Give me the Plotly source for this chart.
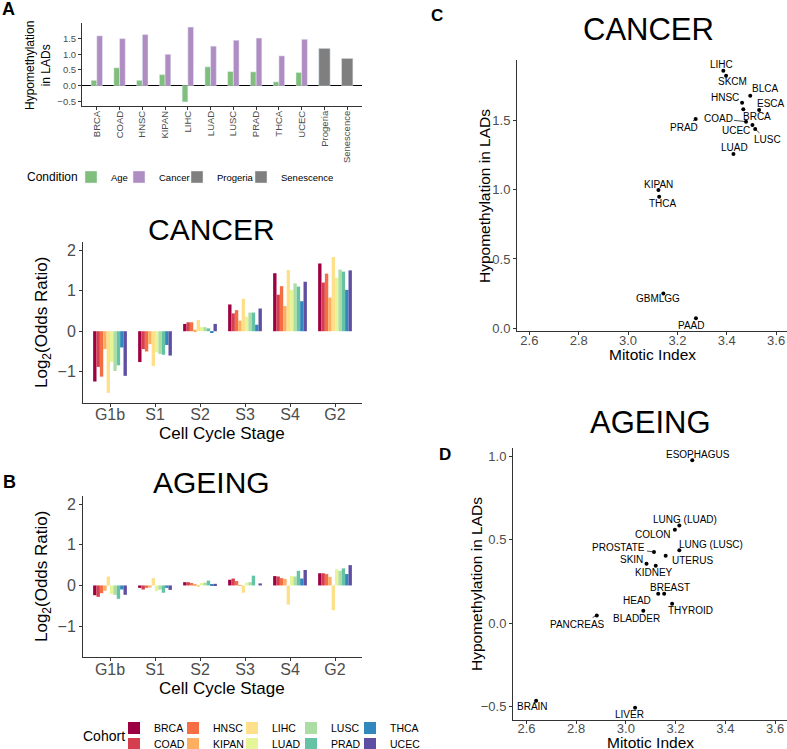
import plotly.graph_objects as go

W, H = 787, 749
FONT = "Liberation Sans, Arial, Helvetica, sans-serif"
TICK_GREY = "#4D4D4D"
AXIS_COL = "#333333"

# ---------------- Panel A data ----------------
a_categories = ["BRCA", "COAD", "HNSC", "KIPAN", "LIHC", "LUAD", "LUSC",
                "PRAD", "THCA", "UCEC", "Progeria", "Senescence"]
a_cohorts = ["BRCA", "COAD", "HNSC", "KIPAN", "LIHC", "LUAD", "LUSC",
             "PRAD", "THCA", "UCEC"]
a_age = [0.17, 0.57, 0.17, 0.35, -0.52, 0.60, 0.45, 0.44, 0.12, 0.42]
a_cancer = [1.59, 1.50, 1.63, 1.00, 1.87, 1.26, 1.45, 1.52, 0.95, 1.48]
a_progeria = [1.19]
a_senescence = [0.87]

# ---------------- Panel B data (log2 odds ratio) ----------------
stages = ["G1b", "S1", "S2", "S3", "S4", "G2"]
cohorts = ["BRCA", "COAD", "HNSC", "KIPAN", "LIHC", "LUAD", "LUSC", "PRAD", "THCA", "UCEC"]
cohort_colors = ["#9E0142", "#D53E4F", "#F46D43", "#FDAE61", "#FEE08B",
                 "#E6F598", "#ABDDA4", "#66C2A5", "#3288BD", "#5E4FA2"]

cancer_brca = [-1.24, -0.76, 0.18, 0.66, 1.43, 1.67]
cancer_coad = [-0.88, -0.44, 0.22, 0.44, 0.90, 1.20]
cancer_hnsc = [-1.12, -0.50, 0.22, 0.52, 1.11, 1.42]
cancer_kipan = [-0.44, -0.32, 0.04, 0.26, 0.62, 0.83]
cancer_lihc = [-1.52, -0.86, 0.28, 0.80, 1.51, 1.83]
cancer_luad = [-0.76, -0.52, 0.10, 0.36, 1.02, 1.32]
cancer_lusc = [-0.98, -0.56, 0.10, 0.46, 1.18, 1.52]
cancer_prad = [-0.84, -0.58, 0.07, 0.46, 1.10, 1.47]
cancer_thca = [-0.40, -0.34, -0.04, 0.16, 0.74, 1.02]
cancer_ucec = [-1.10, -0.60, 0.18, 0.56, 1.22, 1.50]

ageing_brca = [-0.24, -0.06, 0.08, 0.14, 0.23, 0.30]
ageing_coad = [-0.28, -0.10, 0.08, 0.17, 0.22, 0.30]
ageing_hnsc = [-0.19, -0.06, 0.06, 0.11, 0.18, 0.28]
ageing_kipan = [-0.13, -0.05, 0.02, 0.01, 0.16, 0.21]
ageing_lihc = [0.22, 0.18, -0.02, -0.18, -0.47, -0.61]
ageing_luad = [-0.21, -0.14, 0.06, 0.07, 0.23, 0.40]
ageing_lusc = [-0.23, -0.10, 0.07, 0.08, 0.22, 0.36]
ageing_prad = [-0.33, -0.18, 0.12, 0.24, 0.36, 0.42]
ageing_thca = [-0.10, -0.06, 0.03, 0.00, 0.17, 0.28]
ageing_ucec = [-0.23, -0.11, 0.04, 0.05, 0.38, 0.50]

cancer_table = [cancer_brca, cancer_coad, cancer_hnsc, cancer_kipan, cancer_lihc,
                cancer_luad, cancer_lusc, cancer_prad, cancer_thca, cancer_ucec]
ageing_table = [ageing_brca, ageing_coad, ageing_hnsc, ageing_kipan, ageing_lihc,
                ageing_luad, ageing_lusc, ageing_prad, ageing_thca, ageing_ucec]

# ---------------- Panel C data ----------------
c_labels = ["LIHC", "SKCM", "BLCA", "HNSC", "BRCA", "ESCA", "COAD", "UCEC",
            "LUSC", "PRAD", "LUAD", "KIPAN", "THCA", "GBMLGG", "PAAD"]
c_mitotic = [3.386, 3.397, 3.495, 3.462, 3.467, 3.531, 3.478, 3.504,
             3.515, 3.274, 3.427, 3.123, 3.126, 3.143, 3.275]
c_hypo = [1.856, 1.820, 1.676, 1.625, 1.578, 1.573, 1.489, 1.465,
          1.436, 1.508, 1.256, 0.996, 0.948, 0.252, 0.072]

# ---------------- Panel D data ----------------
d_labels = ["ESOPHAGUS", "LUNG (LUAD)", "COLON", "PROSTATE", "LUNG (LUSC)", "UTERUS",
            "SKIN", "KIDNEY", "HEAD", "BREAST", "THYROID", "BLADDER", "PANCREAS",
            "BRAIN", "LIVER"]
d_mitotic = [3.267, 3.215, 3.197, 3.113, 3.215, 3.160, 3.083, 3.120, 3.130,
             3.154, 3.186, 3.070, 2.883, 2.639, 3.037]
d_hypo = [0.975, 0.585, 0.560, 0.426, 0.436, 0.404, 0.356, 0.344, 0.176,
          0.176, 0.116, 0.074, 0.046, -0.464, -0.506]

# label placement (pixel offsets of label centre from point; seg = draw a segment)
c_offsets = [(-2, -6, 0), (6, 6, 0), (15, -7, 0), (-17, -5, 0), (14, 7, 0), (12, -6, 0),
             (-28, -3, 1), (-16, 6, 0), (12, 11, 1), (-12, 9, 1), (1, -6, 0),
             (0, -6, 0), (4, 7, 0), (-5, 5, 0), (-4, 7, 0)]
d_offsets = [(6, -6, 0), (6, -6, 0), (-22, 5, 0), (-35, -5, 1), (32, -6, 1), (27, 5, 0),
             (-15, -4, 0), (-2, 7, 0), (-21, 7, 0), (6, -6, 0), (18, 7, 0), (-7, 8, 0),
             (-19, 9, 1), (-4, 6, 0), (-6, 7, 0)]

fig = go.Figure()

# Panel A bars
fig.add_trace(go.Bar(x=a_cohorts, y=a_age, name="Age", marker_color="#7FBF7B",
                     width=0.25, offset=-0.25, xaxis="x", yaxis="y", legend="legend",
                     legendwidth=3))
fig.add_trace(go.Bar(x=a_cohorts, y=a_cancer, name="Cancer", marker_color="#AF8DC3",
                     width=0.25, offset=0.0, xaxis="x", yaxis="y", legend="legend",
                     legendwidth=13))
fig.add_trace(go.Bar(x=["Progeria"], y=a_progeria, name="Progeria", marker_color="#7F7F7F",
                     width=0.5, offset=-0.25, xaxis="x", yaxis="y", legend="legend",
                     legendwidth=19))
fig.add_trace(go.Bar(x=["Senescence"], y=a_senescence, name="Senescence", marker_color="#7F7F7F",
                     width=0.5, offset=-0.25, xaxis="x", yaxis="y", legend="legend",
                     legendwidth=54))

# Panel B bars
n = len(cohorts)
bw = 0.75 / n
legend_order = [0, 2, 4, 6, 8, 1, 3, 5, 7, 9]
for i, name in enumerate(cohorts):
    rank = legend_order.index(i)
    leg = "legend2" if rank < 5 else "legend3"
    lw = 34 if rank in (4, 9) else 14
    fig.add_trace(go.Bar(x=stages, y=cancer_table[i], name=name, marker_color=cohort_colors[i],
                         width=bw, offset=-0.375 + i * bw, xaxis="x2", yaxis="y2",
                         legend=leg, legendrank=rank + 1, legendwidth=lw, marker_line_width=0))
    fig.add_trace(go.Bar(x=stages, y=ageing_table[i], name=name, marker_color=cohort_colors[i],
                         width=bw, offset=-0.375 + i * bw, xaxis="x3", yaxis="y3",
                         showlegend=False, marker_line_width=0))

# Panel C / D scatter
fig.add_trace(go.Scatter(x=c_mitotic, y=c_hypo, mode="markers", marker=dict(color="black", size=4),
                         xaxis="x4", yaxis="y4", showlegend=False))
fig.add_trace(go.Scatter(x=d_mitotic, y=d_hypo, mode="markers", marker=dict(color="black", size=4),
                         xaxis="x5", yaxis="y5", showlegend=False))

ann = []


def txt(x, y, text, size, angle=0, color="black", family=FONT):
    ann.append(dict(xref="paper", yref="paper", x=x / W, y=1 - y / H, text=text,
                    showarrow=False, xanchor="center", yanchor="middle", textangle=angle,
                    font=dict(size=size, color=color, family=family)))


# panel letters
txt(8, 9, "<b>A</b>", 18)
txt(9, 482, "<b>B</b>", 18)
txt(437, 15, "<b>C</b>", 17)
txt(445, 455, "<b>D</b>", 17)
# titles
txt(211, 229, "CANCER", 30)
txt(212, 483, "AGEING", 30)
txt(648, 29, "CANCER", 31)
txt(650, 422, "AGEING", 31)
# axis titles
txt(38, 66, "Hypomethylation<br>in LADs", 12, angle=-90)
txt(43, 323, "Log<sub>2</sub>(Odds Ratio)", 17, angle=-90)
txt(222, 434, "Cell Cycle Stage", 17)
txt(43, 577, "Log<sub>2</sub>(Odds Ratio)", 17, angle=-90)
txt(222, 688, "Cell Cycle Stage", 17)
txt(484, 196, "Hypomethylation in LADs", 15.5, angle=-90)
txt(652, 354, "Mitotic Index", 15.5)
txt(476, 584, "Hypomethylation in LADs", 15.5, angle=-90)
txt(650, 742, "Mitotic Index", 15.5)
# legend titles
txt(53, 177, "Condition", 12)
txt(104, 736, "Cohort", 14)

# scatter labels
for labs, xs, ys, offs, xr, yr in [(c_labels, c_mitotic, c_hypo, c_offsets, "x4", "y4"),
                                   (d_labels, d_mitotic, d_hypo, d_offsets, "x5", "y5")]:
    for lab, xv, yv, (dx, dy, seg) in zip(labs, xs, ys, offs):
        if seg:
            ann.append(dict(xref=xr, yref=yr, x=xv, y=yv, text=lab, showarrow=True,
                            ax=dx, ay=dy, arrowhead=0, arrowwidth=0.7, arrowcolor="black",
                            standoff=1, font=dict(size=10, color="black")))
        else:
            ann.append(dict(xref=xr, yref=yr, x=xv, y=yv, text=lab, showarrow=False,
                            xshift=dx, yshift=-dy, font=dict(size=10, color="black")))

axis_common = dict(showline=True, linecolor=AXIS_COL, linewidth=1, ticks="outside", ticklen=3,
                   tickcolor=AXIS_COL, showgrid=False, zeroline=False, automargin=False)


def dom_x(a, b):
    return [a / W, b / W]


def dom_y(top, bottom):
    return [1 - bottom / H, 1 - top / H]


fig.update_layout(
    width=W, height=H, margin=dict(l=0, r=0, t=0, b=0, pad=0, autoexpand=False),
    plot_bgcolor="white", paper_bgcolor="white", barmode="overlay",
    font=dict(family=FONT, color="black"),
    xaxis=dict(axis_common, domain=dom_x(82, 362), anchor="y", type="category",
               categoryorder="array", categoryarray=a_categories, range=[-0.65, 11.65],
               tickangle=-90, tickfont=dict(size=9.5, color=TICK_GREY), ticklabelstandoff=-3),
    yaxis=dict(axis_common, domain=dom_y(23, 106), anchor="x", range=[-0.65, 2.0],
               tickvals=[-0.5, 0, 0.5, 1.0, 1.5], tickformat=".1f",
               tickfont=dict(size=9.5, color=TICK_GREY),
               zeroline=True, zerolinecolor="black", zerolinewidth=1),
    xaxis2=dict(axis_common, domain=dom_x(83, 362), anchor="y2", type="category",
                range=[-0.6, 5.6], tickfont=dict(size=16, color=TICK_GREY), ticklabelstandoff=-6),
    yaxis2=dict(axis_common, domain=dom_y(242, 403), anchor="x2", range=[-1.77, 2.2],
                tickvals=[-1, 0, 1, 2], tickfont=dict(size=16, color=TICK_GREY)),
    xaxis3=dict(axis_common, domain=dom_x(83, 362), anchor="y3", type="category",
                range=[-0.6, 5.6], tickfont=dict(size=16, color=TICK_GREY), ticklabelstandoff=-5),
    yaxis3=dict(axis_common, domain=dom_y(496, 657), anchor="x3", range=[-1.76, 2.2],
                tickvals=[-1, 0, 1, 2], tickfont=dict(size=16, color=TICK_GREY)),
    xaxis4=dict(axis_common, domain=dom_x(517, 787), anchor="y4", range=[2.55, 3.644],
                tickvals=[2.6, 2.8, 3.0, 3.2, 3.4, 3.6], tickformat=".1f",
                tickfont=dict(size=13, color=TICK_GREY), ticklabelstandoff=-6),
    yaxis4=dict(axis_common, domain=dom_y(60, 331), anchor="x4", range=[-0.019, 1.933],
                tickvals=[0, 0.5, 1.0, 1.5], tickformat=".1f",
                tickfont=dict(size=13, color=TICK_GREY)),
    xaxis5=dict(axis_common, domain=dom_x(513, 787), anchor="y5", range=[2.546, 3.648],
                tickvals=[2.6, 2.8, 3.0, 3.2, 3.4, 3.6], tickformat=".1f",
                tickfont=dict(size=13, color=TICK_GREY), ticklabelstandoff=-7),
    yaxis5=dict(axis_common, domain=dom_y(448, 720), anchor="x5", range=[-0.58, 1.049],
                tickvals=[-0.5, 0, 0.5, 1.0], tickformat=".1f",
                tickfont=dict(size=13, color=TICK_GREY)),
    legend=dict(orientation="h", x=71 / W, y=1 - 177 / H, xanchor="left", yanchor="middle",
                font=dict(size=9.5), bgcolor="rgba(0,0,0,0)", tracegroupgap=0,
                entrywidth=14, entrywidthmode="pixels", itemwidth=30),
    legend2=dict(orientation="h", x=114 / W, y=1 - 728 / H, xanchor="left", yanchor="middle",
                 font=dict(size=10.5), entrywidth=14, entrywidthmode="pixels",
                 bgcolor="rgba(0,0,0,0)", itemwidth=30),
    legend3=dict(orientation="h", x=114 / W, y=1 - 744 / H, xanchor="left", yanchor="middle",
                 font=dict(size=10.5), entrywidth=14, entrywidthmode="pixels",
                 bgcolor="rgba(0,0,0,0)", itemwidth=30),
    annotations=ann,
)

# remove the browser's default page margin so the figure sits at the window origin
POST = ("var s=document.createElement('style');"
        "s.innerHTML='html,body{margin:0;padding:0;overflow:hidden;}';"
        "document.head.appendChild(s);")

fig.write_html("out.html", config={"displayModeBar": False}, post_script=POST)
